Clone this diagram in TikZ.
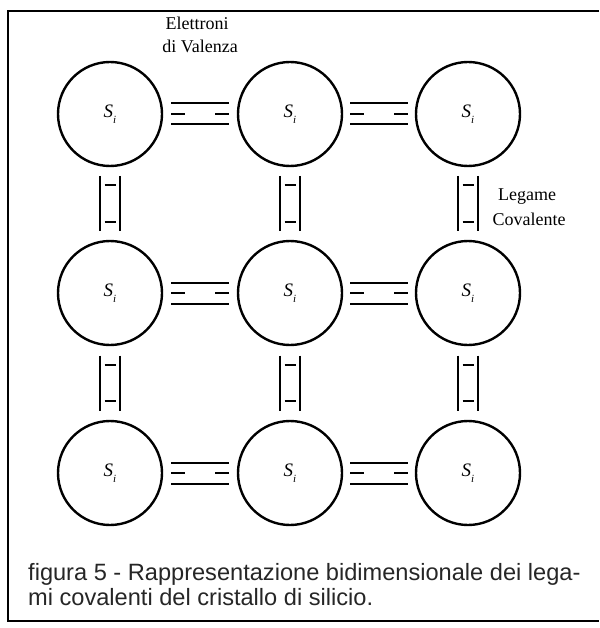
\documentclass[tikz,border=0pt]{standalone}
\usepackage{fontspec}
\setmainfont{Liberation Serif}
\newfontfamily\capfont{Liberation Sans}
\usetikzlibrary{calc}
\begin{document}
\begin{tikzpicture}[x=1pt,y=-1pt,
  atom/.style={circle,draw,line width=2.4pt,minimum size=104pt,inner sep=0pt,
    font=\fontsize{19}{19}\selectfont\itshape},
  bondline/.style={line width=2pt},
  lbl/.style={font=\fontsize{18}{20}\selectfont,inner sep=0pt},
  captxt/.style={font=\capfont\fontsize{23.6}{28}\selectfont,text=black!85,inner sep=0pt,anchor=base west},
  hbond/.pic={\draw[bondline] (-29,-10.5)--(29,-10.5) (-29,10.5)--(29,10.5)
      (-29,0)--(-15,0) (15,0)--(29,0);},
  vbond/.pic={\draw[bondline] (-10,-27.5)--(-10,27.5) (10,-27.5)--(10,27.5)
      (-5.5,-18)--(5.5,-18) (-5.5,18)--(5.5,18);}]
\useasboundingbox (0,0) rectangle (599,628);
\draw[line width=1.6pt] (599,11) -- (8,11) -- (8,621) -- (599,621);
\foreach \r/\y in {1/114,2/293,3/473}
  \foreach \c/\x in {1/110,2/290,3/468}
    \node[atom] (c\r\c) at (\x,\y) {S\raisebox{-0.3em}{\fontsize{11}{11}\selectfont i}};
\foreach \r in {1,2,3}{
  \pic at ($(c\r1)!0.5!(c\r2)$) {hbond};
  \pic at ($(c\r2)!0.5!(c\r3)$) {hbond};
}
\foreach \c in {1,2,3}{
  \pic at ($(c1\c)!0.5!(c2\c)$) {vbond};
  \pic at ($(c2\c)!0.5!(c3\c)$) {vbond};
}
\node[lbl] (el1) at (197,23) {Elettroni};
\node[lbl] (el2) at (200,46) {di Valenza};
\node[lbl] (lg1) at (527,197) {Legame};
\node[lbl] (lg2) at (529,219) {Covalente};
\node[captxt] (cap1) at (28,580) {figura 5 - Rappresentazione bidimensionale dei lega-};
\node[captxt] (cap2) at (28,605) {mi covalenti del cristallo di silicio.};
\end{tikzpicture}
\end{document}
